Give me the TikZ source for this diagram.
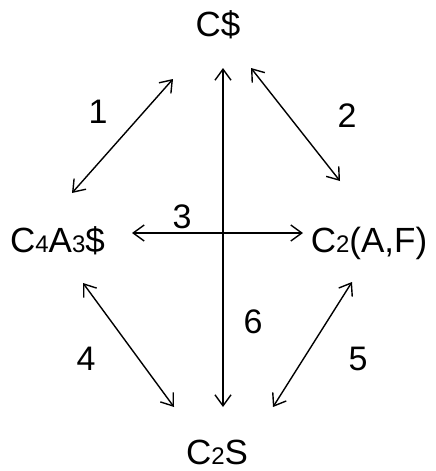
\documentclass[tikz,border=0pt]{standalone}
\usepackage{fontspec}
\setmainfont{Liberation Sans}
\usepackage{tikz}
\usetikzlibrary{arrows.meta}

\newcommand{\smallidx}[1]{{\fontsize{24}{24}\selectfont #1}}

\begin{document}
\begin{tikzpicture}[x=1pt, y=-1pt,
        phase/.style = {anchor=base, inner sep=0pt, font=\fontsize{35}{35}\selectfont},
        num/.style = {anchor=base, inner sep=0pt, font=\fontsize{34}{34}\selectfont},
        link/.style = {line width=1.4pt, {Straight Barb[length=11pt,width=16pt]}-{Straight Barb[length=11pt,width=16pt]}}]
        \useasboundingbox (0,0) rectangle (436,471);

        % phases
        \node[phase] (cs) at (218,36) {C\$};
        \node[phase] (c4a3) at (57.5,252) {C\smallidx{4}A\smallidx{3}\$};
        \node[phase] (c2af) at (369,252) {C\smallidx{2}(A,F)};
        \node[phase] (c2s) at (217,464) {C\smallidx{2}S};

        % reactions
        \draw[link] ([shift={(14.5,-59)}]c4a3.base) -- ([shift={(-45,43)}]cs.base);
        \draw[link] ([shift={(33,32)}]cs.base) -- ([shift={(-29,-71)}]c2af.base);
        \draw[link] ([shift={(74.5,-19)}]c4a3.base) -- ([shift={(-66,-19)}]c2af.base);
        \draw[link] ([shift={(25.5,31)}]c4a3.base) -- ([shift={(-43,-57)}]c2s.base);
        \draw[link] ([shift={(-17,30)}]c2af.base) -- ([shift={(56,-57)}]c2s.base);
        \draw[link] ([shift={(5,32)}]cs.base) -- ([shift={(6,-57)}]c2s.base);

        \node[num] (n1) at (98,123) {1};
        \node[num] (n2) at (347,127) {2};
        \node[num] (n3) at (182,228) {3};
        \node[num] (n4) at (86,370) {4};
        \node[num] (n5) at (358,370) {5};
        \node[num] (n6) at (253,333) {6};
\end{tikzpicture}
\end{document}
